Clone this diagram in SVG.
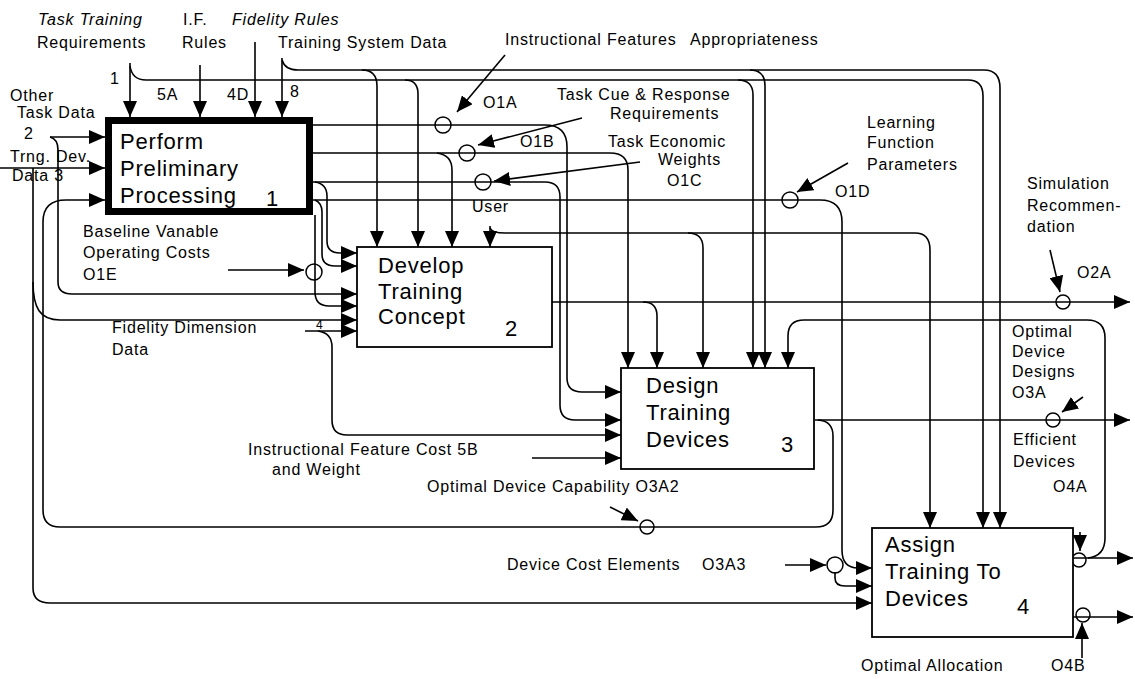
<svg xmlns="http://www.w3.org/2000/svg" width="1135" height="679" viewBox="0 0 1135 679">
<style>
.ln{fill:none;stroke:#000;stroke-width:1.6}
.ar{marker-end:url(#ah)}
.bx{fill:#fff;stroke:#000;stroke-width:1.8}
.c{fill:none;stroke:#000;stroke-width:1.5}
.l{font-family:"Liberation Sans",Arial,sans-serif;font-size:16px;letter-spacing:0.8px;fill:#000}
.i{font-style:italic}
.bt{font-size:22px;letter-spacing:0.8px}
.s{font-size:12px;letter-spacing:0}
</style>
<defs>
<marker id="ah" markerUnits="userSpaceOnUse" markerWidth="16" markerHeight="14" refX="16" refY="7" orient="auto">
<path d="M0,0 L16,7 L0,14 z" fill="#000"/>
</marker>
</defs>
<rect width="1135" height="679" fill="#fff"/>
<g id="connectors">
<!-- Task Training Requirements -->
<path class="ln ar" d="M130,63 V117"/>
<path class="ln ar" d="M130,66 Q132,80 146,80 H968 Q983,80 983,96 V528"/>
<path class="ln ar" d="M405,80 Q418,80 418,94 V247"/>
<path class="ln ar" d="M738,80 Q753,80 753,95 V368"/>
<!-- Training System Data -->
<path class="ln ar" d="M282,58 V117"/>
<path class="ln ar" d="M282,60 Q285,70 298,70 H984 Q1000,70 1000,88 V528"/>
<path class="ln ar" d="M362,70 Q377,70 377,86 V247"/>
<path class="ln ar" d="M750,70 Q765,70 765,86 V368"/>
<!-- I.F. Rules / Fidelity Rules -->
<path class="ln ar" d="M200,65 V117"/>
<path class="ln ar" d="M255,42 V117"/>
<!-- Other Task Data -->
<path class="ln ar" d="M50,137 H105"/>
<path class="ln ar" d="M50,137 Q58,139 58,150 V282 Q58,294 72,294 H357"/>
<!-- Trng Dev Data -->
<path class="ln ar" d="M0,168 H105"/>
<path class="ln ar" d="M33,168 V588 Q33,603 50,603 H872"/>
<path class="ln ar" d="M33,282 C33,308 40,320 60,320 H357"/>
<!-- Box 3 output / O3A2 loop -->
<path class="ln ar" d="M815,420 H1130"/>
<path class="ln ar" d="M818,420 Q833,421 833,436 V510 Q833,527 816,527 H60 Q43,527 43,510 V222 Q43,200 66,200 H105"/>
<!-- Box 1 outputs -->
<path class="ln ar" d="M313,125 H545 Q567,125 567,147 V378 Q567,392 582,392 H621"/>
<path class="ln ar" d="M313,153 H610 Q628,153 628,170 V368"/>
<path class="ln ar" d="M437,153 Q452,155 452,170 V247"/>
<path class="ln ar" d="M313,182 H545 Q560,182 560,197 V405 Q560,420 575,420 H621"/>
<path class="ln ar" d="M315,182 Q327,184 327,196 V241 Q327,253 340,253 H357"/>
<path class="ln ar" d="M313,200 H820 Q842,200 842,222 V550 Q842,568 858,568 H872"/>
<path class="ln ar" d="M315,200 Q322,203 322,212 V254 Q322,266 335,266 H357"/>
<path class="ln ar" d="M315,215 V292 Q315,306 329,306 H357"/>
<!-- Fidelity Dimension Data -->
<path class="ln ar" d="M305,331 H357"/>
<path class="ln ar" d="M318,331 Q332,333 332,347 V420 Q332,435 347,435 H621"/>
<path class="ln ar" d="M532,458 H621"/>
<!-- User -->
<path class="ln ar" d="M490,226 V247"/>
<path class="ln ar" d="M490,228 Q492,233 505,233 H915 Q930,233 930,250 V528"/>
<path class="ln ar" d="M688,233 Q703,233 703,248 V368"/>
<!-- Box 2 output -->
<path class="ln ar" d="M552,302 H1130"/>
<path class="ln ar" d="M643,302 Q657,302 657,316 V368"/>
<!-- Box 4 outputs and feedback -->
<path class="ln ar" d="M1073,558 H1133"/>
<path class="ln ar" d="M1088,558 Q1105,556 1105,538 V338 Q1105,320 1087,320 H804 Q788,320 788,336 V368"/>
<path class="ln ar" d="M1073,617 H1133"/>
<path class="ln ar" d="M835,572 V578 Q835,586 845,586 H872"/>
<!-- tunnel arrows -->
<path class="ln ar" d="M505,55 L457,112"/>
<path class="ln ar" d="M582,118 L478,145"/>
<path class="ln ar" d="M640,162 L494,181"/>
<path class="ln ar" d="M848,163 L797,192"/>
<path class="ln ar" d="M1050,250 L1060,292"/>
<path class="ln ar" d="M228,270 L304,270"/>
<path class="ln ar" d="M1083,397 L1062,412"/>
<path class="ln ar" d="M610,507 L638,521"/>
<path class="ln ar" d="M785,565 L826,565"/>
<path class="ln ar" d="M1080,532 L1080,551"/>
<path class="ln ar" d="M1082,658 V623"/>
<!-- circles -->
<circle class="c" cx="443" cy="125" r="8"/>
<circle class="c" cx="467" cy="153" r="8"/>
<circle class="c" cx="483" cy="182" r="8"/>
<circle class="c" cx="790" cy="200" r="8"/>
<circle class="c" cx="1063" cy="302" r="7"/>
<circle class="c" cx="314" cy="272" r="8"/>
<circle class="c" cx="1053" cy="420" r="7"/>
<circle class="c" cx="647" cy="527" r="7"/>
<circle class="c" cx="835" cy="565" r="8"/>
<circle class="c" cx="1079" cy="560" r="7"/>
<circle class="c" cx="1083" cy="615" r="7"/>
</g>
<g id="node1">
<rect x="108.5" y="120.5" width="201" height="91" fill="#fff" stroke="#000" stroke-width="7"/>
<text class="l bt" x="120" y="149">Perform</text>
<text class="l bt" x="120" y="176">Preliminary</text>
<text class="l bt" x="120" y="203">Processing</text>
<text class="l bt" x="266" y="206">1</text>
</g>
<g id="node2">
<rect class="bx" x="357" y="247" width="195" height="100"/>
<text class="l bt" x="378" y="273">Develop</text>
<text class="l bt" x="378" y="299">Training</text>
<text class="l bt" x="378" y="324">Concept</text>
<text class="l bt" x="505" y="336">2</text>
</g>
<g id="node3">
<rect class="bx" x="621" y="368" width="193" height="101"/>
<text class="l bt" x="646" y="393">Design</text>
<text class="l bt" x="646" y="420">Training</text>
<text class="l bt" x="646" y="447">Devices</text>
<text class="l bt" x="781" y="452">3</text>
</g>
<g id="node4">
<rect class="bx" x="872" y="528" width="201" height="109"/>
<text class="l bt" x="885" y="552">Assign</text>
<text class="l bt" x="885" y="579">Training To</text>
<text class="l bt" x="885" y="606">Devices</text>
<text class="l bt" x="1017" y="614">4</text>
</g>
<g id="labels">
<text class="l i" x="38" y="25">Task Training</text>
<text class="l" x="37" y="48">Requirements</text>
<text class="l" x="183" y="25">I.F.</text>
<text class="l" x="182" y="48">Rules</text>
<text class="l i" x="232" y="25">Fidelity Rules</text>
<text class="l" x="278" y="48">Training System Data</text>
<text class="l" x="505" y="45">Instructional Features</text>
<text class="l" x="690" y="45">Appropriateness</text>
<text class="l" x="110" y="84">1</text>
<text class="l" x="157" y="100">5A</text>
<text class="l" x="227" y="100">4D</text>
<text class="l" x="290" y="97">8</text>
<text class="l" x="10" y="101">Other</text>
<text class="l" x="17" y="118">Task Data</text>
<text class="l" x="24" y="139">2</text>
<text class="l" x="10" y="162">Trng. Dev.</text>
<text class="l" x="12" y="181">Data 3</text>
<text class="l" x="483" y="108">O1A</text>
<text class="l" x="557" y="100">Task Cue &amp; Response</text>
<text class="l" x="610" y="119">Requirements</text>
<text class="l" x="520" y="147">O1B</text>
<text class="l" x="608" y="147">Task Economic</text>
<text class="l" x="658" y="165">Weights</text>
<text class="l" x="667" y="186">O1C</text>
<text class="l" x="472" y="212">User</text>
<text class="l" x="867" y="128">Learning</text>
<text class="l" x="867" y="148">Function</text>
<text class="l" x="867" y="170">Parameters</text>
<text class="l" x="835" y="197">O1D</text>
<text class="l" x="1027" y="189">Simulation</text>
<text class="l" x="1027" y="211">Recommen-</text>
<text class="l" x="1027" y="232">dation</text>
<text class="l" x="1077" y="278">O2A</text>
<text class="l" x="83" y="237">Baseline Vanable</text>
<text class="l" x="83" y="258">Operating Costs</text>
<text class="l" x="83" y="280">O1E</text>
<text class="l" x="112" y="333">Fidelity Dimension</text>
<text class="l" x="112" y="355">Data</text>
<text class="l s" x="316" y="329">4</text>
<text class="l" x="1012" y="337">Optimal</text>
<text class="l" x="1012" y="357">Device</text>
<text class="l" x="1012" y="377">Designs</text>
<text class="l" x="1012" y="398">O3A</text>
<text class="l" x="1013" y="445">Efficient</text>
<text class="l" x="1013" y="467">Devices</text>
<text class="l" x="1053" y="492">O4A</text>
<text class="l" x="248" y="455">Instructional Feature Cost 5B</text>
<text class="l" x="272" y="475">and Weight</text>
<text class="l" x="427" y="492">Optimal Device Capability O3A2</text>
<text class="l" x="507" y="570">Device Cost Elements</text>
<text class="l" x="702" y="570">O3A3</text>
<text class="l" x="861" y="671">Optimal Allocation</text>
<text class="l" x="1051" y="671">O4B</text>
</g>
</svg>
